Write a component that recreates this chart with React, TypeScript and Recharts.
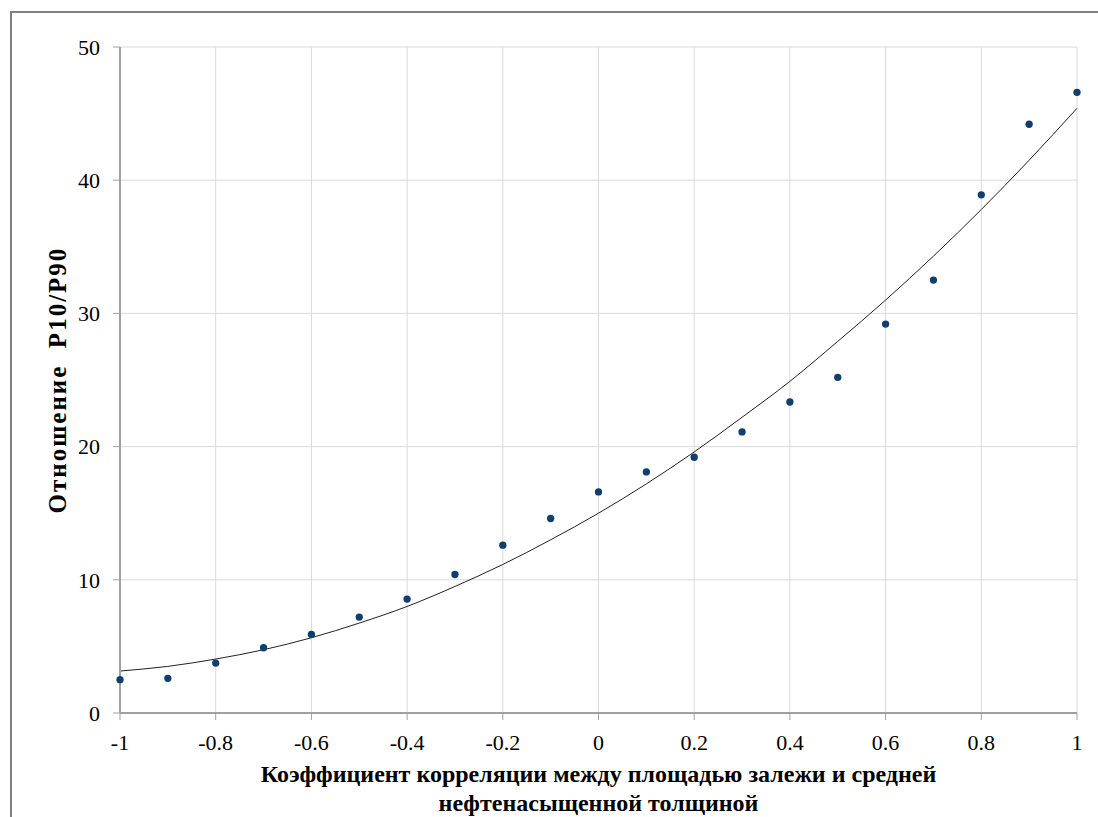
import { ComposedChart, Line, Scatter, XAxis, YAxis, ZAxis, CartesianGrid } from 'recharts'

const correlation = [-1, -0.9, -0.8, -0.7, -0.6, -0.5, -0.4, -0.3, -0.2, -0.1, 0, 0.1, 0.2, 0.3, 0.4, 0.5, 0.6, 0.7, 0.8, 0.9, 1]
const ratio = [2.5, 2.6, 3.75, 4.9, 5.9, 7.2, 8.55, 10.4, 12.6, 14.6, 16.6, 18.1, 19.2, 21.1, 23.35, 25.2, 29.2, 32.5, 38.9, 44.2, 46.6]
const trend = [3.15, 3.5, 4.05, 4.75, 5.65, 6.75, 8.0, 9.5, 11.15, 13.0, 15.0, 17.2, 19.6, 22.2, 24.9, 27.9, 31.0, 34.3, 37.8, 41.5, 45.4]
const xTicks = [-1, -0.8, -0.6, -0.4, -0.2, 0, 0.2, 0.4, 0.6, 0.8, 1]
const yTicks = [0, 10, 20, 30, 40, 50]

const data = correlation.map((x, i) => ({ x, ratio: ratio[i], trend: trend[i] }))

const font = '"Liberation Serif", "Times New Roman", serif'

function XLabel(props: any) {
  const { viewBox } = props
  const cx = viewBox.x + viewBox.width / 2
  return (
    <text x={cx} y={viewBox.y} textAnchor="middle" fontFamily={font} fontWeight="bold" fontSize={24} fill="#000">
      <tspan x={cx} dy={69}>Коэффициент корреляции между площадью залежи и средней</tspan>
      <tspan x={cx} dy={29}>нефтенасыщенной толщиной</tspan>
    </text>
  )
}

function YLabel(props: any) {
  const { viewBox } = props
  const cy = viewBox.y + viewBox.height / 2
  const x = 49
  return (
    <text x={x} y={cy} transform={`rotate(-90, ${x}, ${cy})`} textAnchor="middle" dominantBaseline="central"
      fontFamily={font} fontWeight="bold" fontSize={25} letterSpacing={2} fill="#000">
      Отношение{'\u00a0\u00a0'}P10/P90
    </text>
  )
}

export default function App() {
  return (
    <div style={{ position: 'fixed', left: 0, top: 0, width: 1098, height: 817, background: '#fff', overflow: 'hidden' }}>
      <div style={{ position: 'absolute', left: 10, top: 11, width: 1200, height: 1000, borderLeft: '2px solid #808080', borderTop: '2px solid #808080' }} />
      <div style={{ position: 'absolute', left: 8, top: 8 }}>
        <ComposedChart width={1090} height={809} data={data} margin={{ top: 39, right: 21, bottom: 74, left: 60 }}>
          <CartesianGrid stroke="#d9d9d9" strokeWidth={1} />
          <XAxis type="number" dataKey="x" domain={[-1, 1]} ticks={xTicks} interval={0}
            tickSize={7} tickMargin={14} axisLine={{ stroke: '#a0a0a0', strokeWidth: 2 }} tickLine={{ stroke: '#a0a0a0' }}
            tick={{ fontFamily: font, fontSize: 22, fill: '#000' }} height={30} label={<XLabel />} />
          <YAxis type="number" domain={[0, 50]} ticks={yTicks} interval={0} width={52}
            tickSize={7} tickMargin={13} axisLine={{ stroke: '#a0a0a0', strokeWidth: 2 }} tickLine={{ stroke: '#a0a0a0' }}
            tick={{ fontFamily: font, fontSize: 22, fill: '#000' }} label={<YLabel />} />
          <ZAxis range={[42, 42]} />
          <Line type="monotone" dataKey="trend" stroke="#222" strokeWidth={1} dot={false} activeDot={false} isAnimationActive={false} />
          <Scatter dataKey="ratio" fill="#0f3f6e" isAnimationActive={false} />
        </ComposedChart>
      </div>
    </div>
  )
}
